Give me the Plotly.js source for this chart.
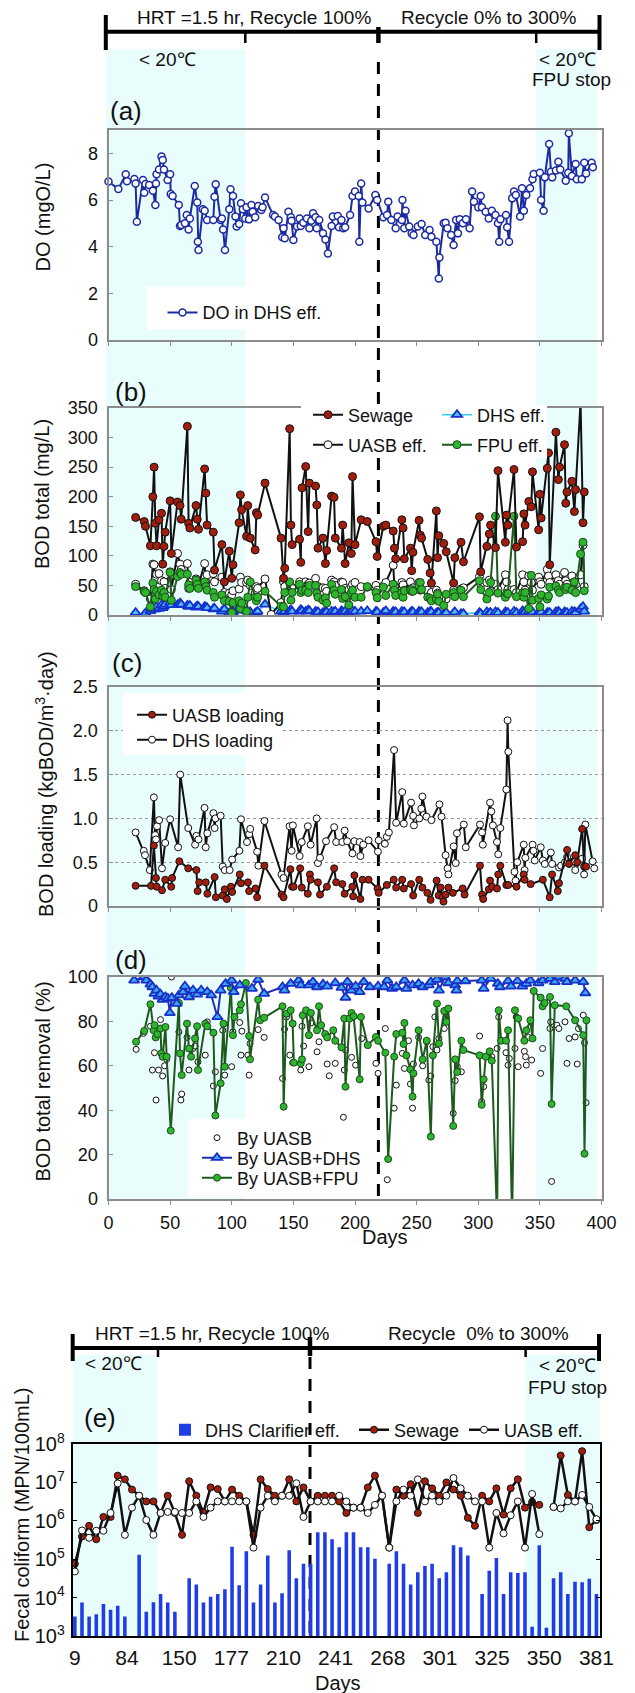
<!DOCTYPE html>
<html><head><meta charset="utf-8">
<script src="https://cdn.plot.ly/plotly-3.0.1.min.js"></script>
<style>html,body{margin:0;padding:0;background:#fff}</style>
</head><body><div id="chart" style="width:635px;height:1693px"></div>
<script>
// ---------- (a) DO in DHS effluent ----------
const doDays=[0,8,14,15,21,22,23,28,29,30,33,36,38,38.5,39,41,43,44,45,48,50,50.5,52,57,58,59,62,63.5,65,66,70,72,72.5,73,76.5,78,80,85,86,87,91,92,93,94.5,98,99,101,103,104,106,107.5,109,111,112,114,116,117,119,121.5,124,125,127,133.5,135,138,141,142,143,146,148,148.5,150,153,155,156,158,161,163,164.5,166,168,169,171,174,176,178,181,182,186,187,189,190.5,192,196,198,200,203,203.5,205,206,211,216.5,218,223,226,227,229.5,233,234.5,238,238.5,240,241,244,246,247.5,251,254,257,260.5,262,266,268,268.5,272,273.5,275,278,280,282,283.5,285,287.5,290,293,295,296.5,300,302,303,306,308.5,311,314,316,317,318,322.5,323.5,325,327.5,329,330.5,334,335.5,337,339,342,344,345,350,351,353,354,357.5,359,360,363,365,366.5,371,373,373.5,376,379,380,384,386,387.5,392,393];
const doVals=[6.79,6.47,7.1,6.8,6.9,6.71,5.07,6.86,6.31,6.69,6.64,6.4,5.79,6.71,7.1,7.31,7.86,7.71,7.31,6.86,7.1,6.26,6.17,5.79,4.89,4.93,5.0,5.36,4.74,5.21,6.6,5.89,4.21,3.86,5.6,5.54,5.14,5.14,6.14,6.67,5.14,5.21,4.74,3.86,5.6,6.46,6.17,5.29,4.86,4.97,5.86,5.6,5.21,5.69,5.17,5.79,5.5,5.26,5.74,5.57,5.69,6.11,5.36,5.29,5.14,4.4,4.79,4.36,5.5,5.26,5.11,4.29,4.86,5.21,4.89,5.03,5.21,4.79,5.11,5.43,5.26,4.79,5.14,4.57,4.31,3.71,4.89,5.29,5.31,4.83,5.14,4.79,4.83,5.36,6.17,6.36,6.17,4.21,6.71,5.89,5.64,6.21,6.0,5.26,5.36,5.93,5.14,4.79,5.29,5.14,6.0,4.79,5.54,4.86,4.57,4.5,4.86,4.97,4.5,4.71,4.43,4.21,2.64,3.54,5.0,5.03,4.79,4.5,4.07,5.14,4.57,5.17,5.0,5.17,4.79,6.36,5.93,5.69,6.17,5.69,5.5,5.21,5.54,5.36,5.0,4.21,5.17,5.36,4.83,4.21,6.07,6.36,6.21,5.29,6.5,5.54,6.21,6.5,6.89,7.11,7.17,6.0,5.54,6.97,8.4,7.21,6.97,7.26,7.64,7.31,6.83,7.17,8.86,7.03,7.54,6.89,6.89,7.6,7.14,7.6,7.4];

// ---------- (b) BOD total ----------
const bDays=[22,29,30,34,36,37,38,39,41,43,44,45,46,50,51,56,58,59,64,65,66,71,72,73,78,79,80,85,86,92,94,98,100,101,106,107,108,112,113,115,119,120,121,127,132,140,142,143,147,148,149,155,156,157,160,162,163,168,169,170,174,176,177,181,183,184,189,190,192,195,197,198,200,205,210,217,218,223,225,231,232,233,238,239,240,245,246,247,252,253,254,259,261,262,266,267,268,272,274,280,281,286,288,301,302,307,309,310,314,316,322,323,324,329,331,336,337,338,341,343,344,349,350,351,356,357,358,363,365,366,370,371,372,376,378,379,383,385,386];
const bSewage=[165,158,150,117,200,250,155,117,161,172,86,116,140,193,104,191,185,162,319,155,147,185,162,145,247,206,152,140,76,119,56,108,62,85,156,203,178,133,185,130,110,173,169,223,null,130,62,79,315,152,119,128,89,215,251,141,223,218,186,113,130,87,109,201,199,130,113,152,87,122,104,234,119,161,158,124,99,150,152,142,113,95,161,147,95,113,75,106,160,135,130,94,71,54,176,97,134,121,107,54,97,123,90,166,73,116,137,152,114,244,123,169,152,246,115,124,171,152,192,183,242,144,204,164,248,274,85,309,229,250,288,189,208,226,175,212,360,156,208];
const bUasb=[52,41,38,27,86,85,59,69,70,58,38,56,45,73,43,104,86,77,87,45,55,61,48,50,87,56,68,70,56,64,38,37,34,41,44,64,55,55,59,50,37,48,45,61,1,21,56,48,54,48,45,56,49,45,56,52,54,62,42,48,46,45,40,59,56,50,56,55,45,43,48,52,55,48,47,50,42,49,55,84,48,40,55,51,42,56,40,46,55,42,43,42,34,38,42,37,31,29,27,42,37,44,46,65,52,55,59,40,52,43,68,56,43,43,38,68,56,42,66,55,42,64,56,52,77,66,55,68,58,52,72,58,52,66,56,52,68,118,48];
const bFpu=[48,40,38,14,54,43,27,40,34,42,32,38,30,72,25,65,72,69,69,51,45,59,52,45,56,48,42,38,30,34,24,23,4,21,24,11,20,6,30,56,30,24,30,40,null,15,14,38,56,25,38,52,38,42,42,38,50,50,37,30,25,29,20,52,42,35,43,28,31,17,38,42,30,30,48,38,29,47,33,52,42,33,38,30,41,42,43,40,50,55,43,30,28,24,27,35,23,16,35,38,31,42,31,58,43,27,38,55,167,37,30,37,36,167,31,37,30,38,11,67,25,28,14,34,27,32,47,49,42,38,46,43,47,42,56,38,103,123,41];
const bDhs=[4,0,3,7,11,10,10,14,11,17,12,15,18,21,17,17,20,18,16,14,16,13,15,14,14,13,12,10,11,6,10,3,7,5,13,10,8,7,6,5,3,4,6,18,null,6,4,6,7,8,6,6,9,7,6,8,7,6,4,5,4,6,5,6,5,6,7,5,6,5,6,7,6,6,7,6,5,4,7,6,4,5,6,4,5,4,6,5,6,4,5,4,6,5,3,4,4,2,4,3,5,2,2,4,2,5,3,4,5,4,5,3,4,6,4,7,4,5,6,4,5,4,6,5,4,3,4,5,6,4,5,3,4,6,5,4,10,14,6];

// ---------- (c) BOD loading ----------
const cDhsDays=[22,28.6,29.6,33.5,36.8,37.8,38.5,39.4,41.1,43.4,46,50,56.5,58.2,64.7,70.3,71.3,73,77.9,78.9,80.2,85.1,86.1,86.8,91,92.7,94.3,98.3,100.3,106.2,107.5,112.4,114.1,115,120.6,121.6,126.5,140.4,142,146.9,148.6,149.6,155.1,156.8,161.7,164,168.9,169.9,171.6,176.5,183.1,184.7,189.7,191.6,193.6,197.9,199.5,203.8,204.4,206.7,211,218.6,219.2,224.2,225.8,227.5,231.7,233.4,238.3,239.6,245.5,247.2,247.8,252.1,253.8,254.7,258,262,268.5,270.2,273.5,275.1,275.8,280,281.7,282.7,288.3,289.9,301.4,303.1,303.7,309.6,310.6,311.9,315.2,316.2,317.9,322.8,323.8,324.4,329.4,330.3,331.7,336.9,337.6,338.2,344.1,344.8,345.8,350.7,352.4,354,358.9,359.9,365.5,367.2,370.4,372.1,377.7,378.7,384.3,385.9,386.9,392.8,394.1];
const cDhsLoad=[0.84,0.63,0.58,0.41,1.24,0.81,0.76,0.91,0.98,0.43,0.72,0.99,0.67,1.50,0.89,0.70,0.80,0.76,1.12,0.67,0.83,1.06,0.89,1.00,1.03,0.45,0.41,0.41,0.53,0.63,0.99,0.73,0.82,0.88,0.62,0.46,0.97,0.36,0.32,0.91,0.63,0.92,0.57,0.73,0.91,0.70,1.00,0.49,0.55,0.74,0.90,0.73,0.73,0.86,0.74,0.60,0.74,0.73,0.57,0.70,0.75,0.62,0.75,0.71,0.79,0.84,1.78,0.95,1.30,0.94,1.18,1.03,0.92,1.00,1.11,1.25,1.02,0.98,1.16,1.02,0.58,0.43,0.36,0.68,0.49,0.83,0.93,0.67,0.93,0.84,0.70,1.18,1.08,0.92,0.73,0.59,0.89,1.33,2.12,1.76,0.39,0.29,0.50,0.70,0.41,0.55,0.70,0.63,0.52,0.67,0.52,0.48,0.61,0.48,0.44,0.46,0.50,0.56,0.51,0.41,0.54,0.36,0.93,0.51,0.43];
const cUasbDays=[22,34.5,36.8,38.5,39.1,43.4,46,50.9,51.6,57.5,64.7,71.3,72.3,73.6,78.9,80.2,86.1,87.1,92.7,94.3,96,99.3,100.3,106.5,107.5,113.1,114.1,119.3,120.6,126.5,140.4,142,147.6,148.9,150.2,155.5,156.8,161.7,163.4,164,169.9,171.6,177.2,183.1,184.7,189.7,191.6,197.9,198.5,199.5,204.4,206.1,211,218.3,219.2,225.8,231.4,233.4,238.3,239.6,245.5,247.2,252.1,254.7,258.7,261.3,266.2,267.9,269.5,271.2,271.8,273.5,275.8,279.4,287.3,288.9,301.4,303.1,304,308.6,309.6,311.3,315.2,316.2,317.9,322.8,324.4,331,336.9,337.6,342.5,352.4,358,359.9,364.5,365.5,372.1,373.7,378.7,380.3,384.3,385.9,387.5];
const cUasbLoad=[0.23,0.23,0.69,0.32,0.22,0.18,0.30,0.22,0.32,0.51,0.43,0.41,0.17,0.27,0.27,0.14,0.33,0.10,0.12,0.19,0.08,0.22,0.16,0.36,0.26,0.27,0.17,0.20,0.10,0.46,0.13,0.10,0.42,0.22,0.22,0.43,0.21,0.14,0.36,0.30,0.27,0.13,0.22,0.43,0.27,0.25,0.14,0.22,0.11,0.35,0.08,0.30,0.30,0.20,0.15,0.24,0.30,0.21,0.30,0.20,0.25,0.12,0.30,0.21,0.15,0.07,0.29,0.12,0.21,0.10,0.05,0.13,0.21,0.15,0.20,0.13,0.46,0.13,0.08,0.19,0.29,0.22,0.20,0.36,0.46,0.24,0.24,0.22,0.36,0.30,0.25,0.30,0.10,0.36,0.17,0.26,0.64,0.48,0.58,0.50,0.88,0.45,0.45];

// ---------- (d) BOD removal ----------
const dDhsDays=[20.8,29,30.7,34,35.6,37.3,38.9,40.6,42.2,43.9,46.2,48.2,49.8,51.4,55.4,57.1,60.4,62,65.3,68.6,71.9,75.2,80.1,83.4,88.4,91,95,99.9,101.6,106.5,116.4,121.4,126.3,141.2,142.8,147.8,154.3,156,162.6,165.9,169.2,174.1,177.4,184,189,192.3,193.9,197.2,200.5,203.8,207.1,212.1,218.7,223.6,226.2,230.2,233.5,240.1,241.7,246.7,251.6,254.9,259.9,261.5,266.5,268.1,273.1,275.7,281.3,282.3,283,289.6,302.8,304.4,310,315.9,317.6,324.2,326.5,331.8,335.7,339,342.3,348.9,352.2,358.2,362.1,365.4,370.4,372,378.6,385.2,386.9];
const dDhsRem=[98.5,100,98.5,96.7,95.5,92.5,94,91.3,92.2,89.8,91,90.3,83.8,90.7,88,91.8,93.3,95.8,91,94,92.2,94,93.3,91.8,82,94,97,98.5,93.3,96.3,94.8,98.8,92.5,95.5,94,97,98.5,96.3,96.3,97.8,95.5,96.7,95.8,97.3,95.2,90.7,97.8,94,95.8,93.3,97.8,95.5,95.8,95.5,98.5,94.8,95.5,98.5,94.8,96.3,97,95.5,96.3,97.8,98.8,94,100,97.3,96.3,94,98.2,98.2,98.5,94.8,99.3,97,95.5,98.2,95.8,98.2,95.8,97,98.5,97.3,98.5,99.3,97.8,100,99.3,97.8,98.5,97.8,92.8];
const dFpuDays=[22.4,29,34,36.6,37.3,38.3,39.6,42.2,42.9,43.9,46.2,47.2,50.5,57.1,58,59.4,63.7,65.3,67,70.2,71.9,72.6,78.5,80.1,85.1,86.7,91,93.3,94.3,99.3,100.9,102.2,106.5,107.5,111.5,114.1,114.8,121.4,123,126.3,141.2,142.1,144.4,147.8,149.4,150.4,156,157,157.6,160.3,162.6,164.2,169.2,170.8,172.5,175.8,177.4,182.4,184,189,191.3,192.3,195.6,197.2,198.9,203.8,204.8,210.4,217,218.7,224.6,226.9,231.8,233.5,238.4,239.4,240.1,241.7,245,246.7,247.4,251.6,254.9,258.2,261.5,263.2,266.5,268.1,272.4,274.1,275.7,279.7,281.3,283,286.3,287.9,301.1,302.8,304.4,306.1,309.3,311,315.3,316.6,318.6,322.5,324.2,327.5,329.8,332.4,337.4,339,342.3,344,345,350.6,352.2,353.9,358.2,359.5,362.1,371.4,378.6,385.2,386.2,387.8];
const dFpuRem=[70.8,75.7,87.7,76,78.3,72.8,74.3,76.8,65.6,64.1,77.5,64.1,30.8,88.3,65.6,55.8,79,67.8,64.1,72.3,77.8,58.1,79,77.8,74.9,37.6,52.1,79,59.6,95.1,73.8,82,85,87.7,97.3,73.4,62.9,89.8,80.5,81.7,86.8,41.6,83.5,85,79,61.4,61.1,62.9,82.8,85,73.8,83.8,76,86.8,78.3,74.3,72.8,76,71.3,68.3,81.3,50.6,81.3,83.8,82.3,53.9,82,69.3,73,71.3,65.9,18,64.1,74.3,74.9,69.8,79.3,64.7,58.4,46.1,56.6,76,62.9,71.3,28.1,64.7,88,70,84.7,79.8,85.8,32.9,62.9,57.2,71.3,67.1,64.7,42.4,53.9,64.1,66.5,62.3,-10,85,71.3,71.3,76,-10,85,81.3,71.3,76,80.5,72.3,93.7,90.7,86.8,88.3,91,42.8,87.3,86.8,80.5,73.8,20.4,80.5];
const dUasbDays=[22.4,28.4,34,35.6,37.3,38.6,40.6,42.2,43.9,45.5,47.2,51.1,57.1,58.7,59.4,63.7,65.3,68.6,70.2,72.6,78.5,80.1,85.1,86.7,92.7,94.3,99.9,100.9,106.5,107.5,108.2,113.1,114.1,114.8,121.4,126.3,141.2,142.8,144.4,147.1,149.4,156,157,158.3,162.6,164.2,169.2,170.8,177.4,179.1,184,190.6,191.3,192.3,197.2,200.5,205.5,217,218.7,224.6,226.2,231.8,233.5,238.4,240.1,243.4,245,246.7,247.4,251.6,254.9,258.2,259.9,261.5,263.2,264.8,266.5,268.1,272.4,274.1,279.7,281.3,283,286.3,301.1,302.8,304.4,311,315.3,316.6,322.5,324.2,325.2,329.8,330.8,332.4,337.4,338.4,339,340.7,343.3,350.6,352.2,358.2,358.8,359.5,363.8,365.4,370.4,372,373.7,378.6,380.3,381.3,385.2,386.2,387.5];
const dUasbRem=[67.4,74.6,77.8,58.1,65.9,44.6,58.1,80.8,55.4,60,62.9,100,75.3,44.6,47.3,72.8,58.1,67.8,68.9,61.8,64.8,79.8,50.9,57.3,76,55.8,59.6,75.3,79.5,64.8,75.6,64.8,55.8,70,76.3,72.8,54.3,76.5,82,64.8,61.4,58.1,77.8,68.9,59.6,79.3,66.3,70.8,60.8,55.5,61.1,36.8,58.1,67.1,63.8,60.3,72.3,61.1,56.6,76.8,8.7,40.9,51.3,65.6,58.8,71.3,51.8,40.9,60.8,72.8,60,70.8,53.6,55.4,68.6,82,67.1,72.3,76.8,81.7,38.6,53.3,59.6,57.3,73.4,43.9,50.6,64.1,67.8,82,65.9,60.3,63.3,67.8,82,59.6,66.5,64.1,60.3,72.8,62.6,56.6,67.8,76.8,79.8,7.9,78.3,76.8,79.8,61.1,72.3,73,60.8,76.8,82.8,70.4,43.4];

// ---------- (e) Fecal coliform (samples) ----------
const eTickLabels=['9','84','150','177','210','241','268','301','325','350','381'];
const eDhsBars=[3.2e3,7.4e3,3.2e3,3.7e3,6.8e3,4.8e3,6.1e3,3.2e3,null,1.3e5,4.3e3,7.6e3,1.25e4,7.4e3,4.3e3,null,3.2e4,2.2e4,7.4e3,1.06e4,1.25e4,1.65e4,2.1e5,2.1e4,1.6e5,7.4e3,2.2e4,1.25e5,7.4e3,1.3e4,1.7e5,3.2e4,7.6e4,7.6e4,5e5,5e5,3.3e5,2.05e5,5e5,5e5,2.05e5,2.05e5,1.03e5,null,7.6e4,1.6e5,7.6e4,2.2e4,4.6e4,6.7e4,7.6e4,3.2e4,4.6e4,2.3e5,2.05e5,1.25e5,null,1.25e4,5e4,1.07e5,1.25e4,4.6e4,4.4e4,4.6e4,1.75e3,2.3e5,1.65e3,3.2e4,4.6e4,1.25e4,2.6e4,2.5e4,3.1e4,1.25e4];
const eSewage=[7.6e4,3.9e5,7.4e5,3.3e5,1.26e6,1.26e6,1.5e7,1.2e7,6.5e6,4.5e6,3.2e6,3.2e6,1.6e6,4.5e6,1.6e6,4.3e5,1.07e7,4.5e6,1.65e6,7.4e6,6.7e6,3.2e6,6.5e6,4.5e6,3.2e6,4.3e5,1.2e7,6.7e6,4.5e6,4.5e6,1.2e7,3.2e6,7.4e6,3.2e6,4.5e6,4.5e6,4.5e6,3.2e6,1.6e6,2.2e6,2.2e6,7.4e6,1.5e7,4.5e6,2e5,6.5e6,4.5e6,9e6,1.6e6,1.07e7,7e6,4.5e6,1e7,6.5e6,4.5e6,1.2e6,7.4e5,4.5e6,3.2e6,7e6,1.45e6,7e6,1.2e7,2.2e6,3.1e6,2.6e6,null,2.3e6,5e7,4.7e6,3.2e6,6.5e7,6.8e5,1.05e6];
const eUasb=[4.8e4,5.6e5,3.6e5,5.5e5,5.5e5,1.6e6,9.4e6,4.3e5,2.2e6,4.5e6,1.05e6,4.3e5,1.6e6,1.7e6,1.7e6,1.6e6,1.6e6,3.2e6,1.26e6,2.2e6,3.2e6,3.2e6,3.2e6,3.2e6,3.2e6,2e5,2.2e6,4.5e6,3.2e6,4.5e6,4.5e6,9.5e6,1.26e6,3.2e6,3.2e6,3.2e6,3.2e6,4.5e6,3.2e6,2.2e6,2.2e6,1.6e6,2.6e6,4.5e6,2e5,3.2e6,6.5e6,4.5e6,1.2e7,3.2e6,4.5e6,3.2e6,4.5e6,1.3e7,7e6,4.5e6,3.2e6,3.2e6,2e5,1.6e6,4.7e5,1.4e6,3.2e6,2e5,5e6,4.5e5,null,2.3e6,2.1e6,3.2e6,3.2e6,4.7e6,2.3e6,1.1e6];
const eSample=eDhsBars.map((_,i)=>i);

// ---------- layout helpers ----------
const W=635,H=1693;
const px=v=>v/W, py=v=>1-v/H;
const FONT='Liberation Sans, Arial, Helvetica, sans-serif';
const GRAY='#8c8c8c', SHADE='rgb(234,253,253)';
const RED='#a11d0d', GREEN='#2db52d', DKGREEN='#1d5a1d', NAVY='#1c2b9f';

const XD=[px(108.5),px(601.5)];
function xax(anchor,labels){return {domain:XD,anchor:anchor,range:[0,400],tick0:0,dtick:50,showline:true,mirror:true,linecolor:GRAY,linewidth:2,ticks:'outside',ticklen:4,tickcolor:GRAY,showticklabels:labels,showgrid:false,zeroline:false,fixedrange:true,tickfont:{family:FONT,size:18,color:'#111'},ticklabelstandoff:2};}
function yax(dom,range,tv,tt,anchor){const a={domain:dom,anchor:anchor,range:range,tickvals:tv,showline:true,mirror:true,linecolor:GRAY,linewidth:2,ticks:'inside',ticklen:4,tickcolor:GRAY,showgrid:false,zeroline:false,tickfont:{family:FONT,size:18,color:'#111'},ticklabelstandoff:5};if(tt)a.ticktext=tt;return a;}

function leg(x,y){return {x:px(x),y:py(y),xanchor:'left',yanchor:'middle',bgcolor:'rgba(0,0,0,0)',borderwidth:0,font:{family:FONT,size:18,color:'#111'}};}

const traces=[
 // (a)
 {x:doDays,y:doVals,xaxis:'x2',yaxis:'y2',name:'DO in DHS eff.',legend:'legend',mode:'lines+markers',cliponaxis:false,
  line:{color:NAVY,width:2},marker:{size:7,color:'white',line:{color:NAVY,width:1.5}}},
 // (b)
 {x:bDays,y:bDhs,xaxis:'x3',yaxis:'y3',name:'DHS eff.',legend:'legend4',mode:'lines+markers',connectgaps:true,
  line:{color:'#27d3f3',width:1.5},marker:{symbol:'triangle-up',size:9,color:'#4fbff5',line:{color:'#1530d0',width:1.8}}},
 {x:bDays,y:bUasb,xaxis:'x3',yaxis:'y3',name:'UASB eff.',legend:'legend3',mode:'lines+markers',connectgaps:true,
  line:{color:'#111',width:2},marker:{size:8,color:'white',line:{color:'#111',width:1}}},
 {x:bDays,y:bFpu,xaxis:'x3',yaxis:'y3',name:'FPU eff.',legend:'legend5',mode:'lines+markers',connectgaps:true,
  line:{color:DKGREEN,width:2},marker:{size:8,color:GREEN,line:{color:'#1d4a1d',width:1}}},
 {x:bDays,y:bSewage,xaxis:'x3',yaxis:'y3',name:'Sewage',legend:'legend2',mode:'lines+markers',connectgaps:true,
  line:{color:'#111',width:2},marker:{size:8,color:RED,line:{color:'#111',width:1}}},
 // (c)
 {x:cDhsDays,y:cDhsLoad,xaxis:'x4',yaxis:'y4',name:'DHS loading',legend:'legend7',mode:'lines+markers',
  line:{color:'#111',width:2},marker:{size:7,color:'white',line:{color:'#111',width:1}}},
 {x:cUasbDays,y:cUasbLoad,xaxis:'x4',yaxis:'y4',name:'UASB loading',legend:'legend6',mode:'lines+markers',
  line:{color:'#111',width:2},marker:{size:7,color:RED,line:{color:'#111',width:1}}},
 // (d)
 {x:dUasbDays,y:dUasbRem,xaxis:'x',yaxis:'y',name:'By UASB',legend:'legend8',mode:'markers',
  marker:{size:6,color:'white',line:{color:'#111',width:1}}},
 {x:dFpuDays,y:dFpuRem,xaxis:'x',yaxis:'y',name:'By UASB+FPU',legend:'legend10',mode:'lines+markers',
  line:{color:DKGREEN,width:2},marker:{size:7,color:GREEN,line:{color:'#1d4a1d',width:1}}},
 {x:dDhsDays,y:dDhsRem,xaxis:'x',yaxis:'y',name:'By UASB+DHS',legend:'legend9',mode:'lines+markers',
  line:{color:'#1f2fb3',width:2},marker:{symbol:'triangle-up',size:9,color:'#3aa8f2',line:{color:'#1a30c8',width:1.8}}},
 // (e)
 {type:'bar',x:eSample,y:eDhsBars,xaxis:'x5',yaxis:'y5',name:'DHS Clarifier eff.',legend:'legend11',width:0.5,
  marker:{color:'#1f3ce6',line:{width:0}}},
 {x:eSample,y:eSewage,xaxis:'x5',yaxis:'y5',name:'Sewage',legend:'legend12',mode:'lines+markers',
  line:{color:'#111',width:2.5},marker:{size:7,color:RED,line:{color:'#111',width:1}}},
 {x:eSample,y:eUasb,xaxis:'x5',yaxis:'y5',name:'UASB eff.',legend:'legend13',mode:'lines+markers',
  line:{color:'#111',width:2.5},marker:{size:7,color:'white',line:{color:'#111',width:1}}}
];

function ln(x0,y0,x1,y1,w,extra){return Object.assign({type:'line',xref:'paper',yref:'paper',x0:px(x0),y0:py(y0),x1:px(x1),y1:py(y1),line:{color:'#000',width:w},layer:'above'},extra||{});}
function rect(x0,y0,x1,y1,color,layer){return {type:'rect',xref:'paper',yref:'paper',x0:px(x0),y0:py(y0),x1:px(x1),y1:py(y1),fillcolor:color,line:{width:0},layer:layer};}

const shapes=[
 rect(105.8,49,245.3,1199,SHADE,'below'),
 rect(536.2,49,597,1199,SHADE,'below'),
 rect(72.7,1355,158,1636,SHADE,'below'),
 rect(525.6,1355,600,1636,SHADE,'below'),
 rect(147,287,300,330,'#fff','below'),
 rect(123,693,283,755,'#fff','above'),
 rect(188,1119,362,1197,'#fff','below'),
 ln(378.4,62,378.4,1199,3,{layer:'below',line:{color:'#000',width:3,dash:'12px,10px'}}),
 ln(310,1357,310,1636,3,{layer:'below',line:{color:'#000',width:3,dash:'12px,10px'}}),
 // top bar (a-d)
 ln(105.8,31.7,599.5,31.7,4), ln(105.8,15,105.8,50,4), ln(599.5,15,599.5,50,4),
 ln(378.4,27,378.4,43,4.5), ln(245.3,31.7,245.3,43,2.5), ln(536.2,31.7,536.2,43,2.5),
 // top bar (e)
 ln(72.7,1348,599,1348,4), ln(72.7,1334,72.7,1361,4), ln(599,1334,599,1361,4),
 ln(310,1337,310,1356,4.5), ln(158,1348,158,1357,2.5), ln(525.6,1348,525.6,1357,2.5)
];
// panel (b) legend box covers the frame top
shapes.push(rect(301,405,547,458,'#fff','above'));

function ann(text,x,y,size,extra){return Object.assign({text:text,xref:'paper',yref:'paper',x:px(x),y:py(y),showarrow:false,xanchor:'center',yanchor:'middle',font:{family:FONT,size:size,color:'#111'}},extra||{});}
const annotations=[
 ann('HRT =1.5 hr, Recycle 100%',254,18,19), ann('Recycle 0% to 300%',488,18,19),
 ann('&lt; 20℃',167.5,60,19), ann('&lt; 20℃',567,60,19), ann('FPU stop',571,80,19),
 ann('(a)',126,111,26), ann('(b)',131,392,26), ann('(c)',127,663,26), ann('(d)',131,960,26), ann('(e)',100,1418,26),
 ann('DO (mgO/L)',42,217.5,20,{textangle:-90}),
 ann('BOD total (mg/L)',42,494,20,{textangle:-90}),
 ann('BOD loading (kgBOD/m<sup>3</sup>·day)',44,784,20,{textangle:-90}),
 ann('BOD total removal (%)',42,1081.5,20,{textangle:-90}),
 ann('Fecal coliform (MPN/100mL)',22,1515,20,{textangle:-90}),
 ann('Days',385,1237,20), ann('Days',338,1683,20),
 ann('HRT =1.5 hr, Recycle 100%',212,1333,19), ann('Recycle  0% to 300%',478,1333,19),
 ann('&lt; 20℃',113,1363,19), ann('&lt; 20℃',567,1365,19), ann('FPU stop',567,1387,19)
];

const layout={
 width:W,height:H,margin:{l:0,r:0,t:0,b:0},paper_bgcolor:'#fff',plot_bgcolor:'rgba(0,0,0,0)',
 showlegend:true,font:{family:FONT,color:'#111'},
 xaxis:xax('y',true), xaxis2:xax('y2',false), xaxis3:xax('y3',false), xaxis4:xax('y4',false),
 yaxis:yax([py(1199),py(977)],[0,100],[0,20,40,60,80,100],null,'x'),
 yaxis2:yax([py(340),py(130)],[0,9],[0,2,4,6,8],null,'x2'),
 yaxis3:yax([py(615),py(408)],[0,350],[0,50,100,150,200,250,300,350],null,'x3'),
 yaxis4:Object.assign(yax([py(906),py(687)],[0,2.5],[0,0.5,1,1.5,2,2.5],['0','0.5','1.0','1.5','2.0','2.5'],'x4'),{showgrid:true,gridcolor:'#9a9a9a',gridwidth:1,griddash:'dot'}),
 xaxis5:{domain:[px(72.7),px(600)],anchor:'y5',range:[-0.3,73.5],tickvals:eTickLabels.map((_,k)=>k*7.3),ticktext:eTickLabels,
  showline:true,mirror:true,linecolor:'#000',linewidth:2,ticks:'',showgrid:false,zeroline:false,tickfont:{family:FONT,size:21,color:'#111'},ticklabelstandoff:2},
 yaxis5:{domain:[py(1636),py(1444)],anchor:'x5',type:'log',range:[3,8],tickvals:[1e3,1e4,1e5,1e6,1e7,1e8],
  ticktext:['10<sup>3</sup>','10<sup>4</sup>','10<sup>5</sup>','10<sup>6</sup>','10<sup>7</sup>','10<sup>8</sup>'],
  showline:true,mirror:'ticks',linecolor:'#000',linewidth:2,ticks:'inside',ticklen:4,tickcolor:'#000',showgrid:false,zeroline:false,
  tickfont:{family:FONT,size:20,color:'#111'},ticklabelstandoff:2},
 legend:leg(162.5,312.7),
 legend2:leg(308,415), legend3:leg(308,445), legend4:leg(437,415), legend5:leg(437,445),
 legend6:leg(132,715), legend7:leg(132,740),
 legend8:leg(197,1138), legend9:leg(197,1158), legend10:leg(197,1178),
 legend11:leg(165,1430), legend12:leg(354,1430), legend13:leg(464,1430),
 shapes:shapes, annotations:annotations
};
Plotly.newPlot('chart',traces,layout,{staticPlot:true,displayModeBar:false});
</script></body></html>
